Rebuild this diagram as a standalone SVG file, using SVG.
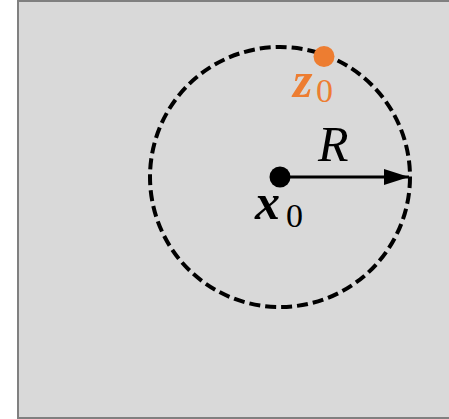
<svg xmlns="http://www.w3.org/2000/svg" width="449" height="419" viewBox="0 0 449 419">
<style>
.math{font-family:"Liberation Serif","DejaVu Serif",serif;}
.bi{font-style:italic;font-weight:bold;font-size:50px;}
.it{font-style:italic;font-size:50px;}
.sub{font-size:34px;}
.blk{fill:#000;}
.org{fill:#ED7D31;}
</style>
<defs>
<marker id="arr" markerWidth="26" markerHeight="18" refX="25" refY="8.5" orient="auto" markerUnits="userSpaceOnUse">
<polygon points="0,0.5 25,8.5 0,16.5" fill="#000"/>
</marker>
</defs>
<g id="background">
<rect x="18" y="1" width="440" height="417" fill="#d9d9d9" stroke="#808080" stroke-width="2"/>
</g>
<g id="ball">
<circle cx="280" cy="177" r="130" fill="none" stroke="#000" stroke-width="4" stroke-dasharray="11 5"/>
</g>
<g id="connectors">
<line x1="280" y1="177" x2="409" y2="177" stroke="#000" stroke-width="2.8" marker-end="url(#arr)"/>
<text class="math it blk" x="318" y="161">R</text>
</g>
<g id="x0">
<circle cx="280" cy="177" r="10.5" fill="#000"/>
<text class="math blk" x="255" y="219"><tspan class="bi">x</tspan><tspan class="sub" x="286" y="227">0</tspan></text>
</g>
<g id="z0">
<circle cx="324" cy="56.5" r="10.5" fill="#ED7D31"/>
<text class="math org" x="293" y="97"><tspan class="bi">z</tspan><tspan class="sub" x="316" y="102">0</tspan></text>
</g>
</svg>
